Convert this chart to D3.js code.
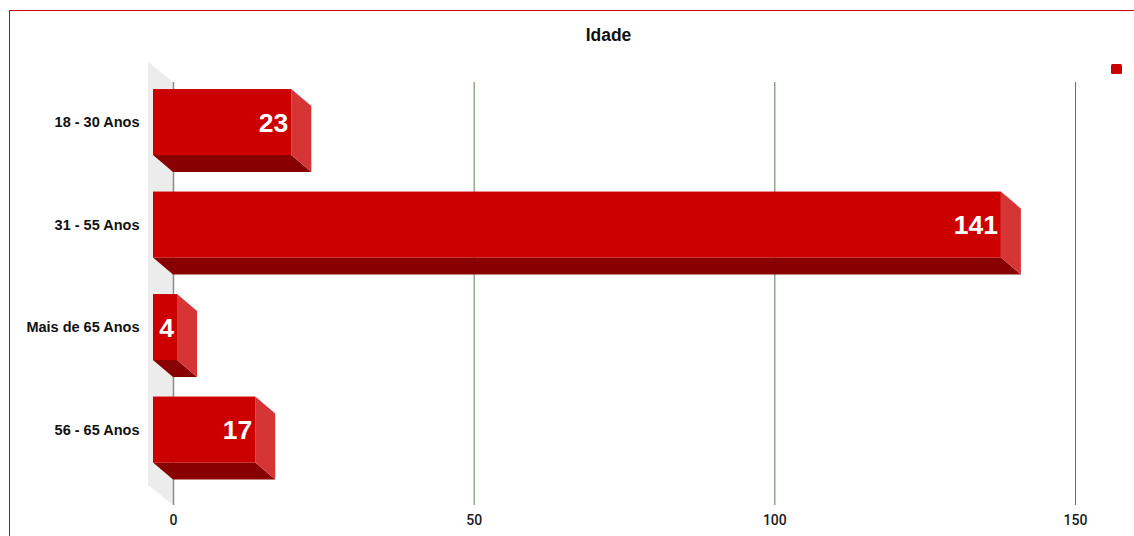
<!DOCTYPE html>
<html>
<head>
<meta charset="utf-8">
<script src="https://cdn.jsdelivr.net/npm/d3@7"></script>
<style>
  html, body { margin: 0; padding: 0; background: #fff; }
  svg { display: block; }
</style>
</head>
<body>
<svg id="chart" width="1134" height="536"></svg>
<script>
// Age groups and respondent counts
const categories = ["18 - 30 Anos", "31 - 55 Anos", "Mais de 65 Anos", "56 - 65 Anos"];
const values = [23, 141, 4, 17];
const xTicks = [0, 50, 100, 150];
const title = "Idade";

const W = 1134, H = 536;
const svg = d3.select("#chart");

// 3D depth offset between the back plane (grid) and the front face of bars
const depthX = 20, depthY = 17;

// Back plane scale (gridlines); bar fronts are shifted by -depthX
const x = d3.scaleLinear().domain([0, 150]).range([173, 1075]);
const y = d3.scaleBand().domain(categories)
  .range([70.8, 480.8]).paddingInner(0.356).paddingOuter(0.178);

const gridTop = 82, gridBottom = 505;

// Outer frame (top and left edges)
svg.append("line").attr("x1", 9.5).attr("x2", W).attr("y1", 10.5).attr("y2", 10.5)
  .attr("stroke", "#cc0000").attr("stroke-width", 1);
svg.append("line").attr("x1", 9.5).attr("x2", 9.5).attr("y1", 10.5).attr("y2", H)
  .attr("stroke", "#cc0000").attr("stroke-width", 1);

// Title
svg.append("text").attr("x", 608.5).attr("y", 41)
  .attr("text-anchor", "middle")
  .attr("font-family", "Liberation Sans, Arial, sans-serif")
  .attr("font-weight", "bold").attr("font-size", 17.5)
  .attr("fill", "#111").text(title);

// Legend marker
svg.append("rect").attr("x", 1111).attr("y", 64).attr("width", 11).attr("height", 10)
  .attr("rx", 1.5).attr("fill", "#cc0000");

// Side wall of the 3D plot
svg.append("path")
  .attr("d", `M148,62 L${x(0)},${gridTop} L${x(0)},${gridBottom} L148,485 Z`)
  .attr("fill", "#ececec");

// Vertical gridlines
svg.append("g").selectAll("line").data(xTicks).join("line")
  .attr("x1", d => x(d) + 0.5).attr("x2", d => x(d) + 0.5)
  .attr("y1", gridTop).attr("y2", gridBottom)
  .attr("stroke", d => d === 0 ? "#8a8a8a" : "#5f7a52")
  .attr("stroke-width", d => d === 0 ? 1.5 : 1);

// Tick labels
svg.append("g").selectAll("text").data(xTicks).join("text")
  .attr("x", d => x(d) + 0.5).attr("y", 525)
  .attr("text-anchor", "middle")
  .attr("font-family", "Roboto, sans-serif").attr("font-weight", 500)
  .attr("font-size", 14).attr("fill", "#1a1a1a")
  .text(d => d);

// Bars
const bars = svg.append("g").selectAll("g").data(values).join("g");
const x0 = x(0) - depthX;

bars.each(function(v, i) {
  const g = d3.select(this);
  const top = y(categories[i]);
  const bottom = top + y.bandwidth();
  const right = x(v) - depthX;
  // bottom face
  g.append("path")
    .attr("d", `M${x0},${bottom} L${right},${bottom} L${right + depthX},${bottom + depthY} L${x0 + depthX},${bottom + depthY} Z`)
    .attr("fill", "#880000");
  // right side face
  g.append("path")
    .attr("d", `M${right},${top} L${right + depthX},${top + depthY} L${right + depthX},${bottom + depthY} L${right},${bottom} Z`)
    .attr("fill", "#d63535");
  // front face
  g.append("rect")
    .attr("x", x0).attr("y", top)
    .attr("width", right - x0).attr("height", bottom - top)
    .attr("fill", "#cc0000");
  // value label
  g.append("text")
    .attr("x", right - 3).attr("y", (top + bottom) / 2 + 9.5)
    .attr("text-anchor", "end")
    .attr("font-family", "Liberation Sans, Arial, sans-serif").attr("font-weight", "bold")
    .attr("font-size", 26.5).attr("fill", "#fff")
    .text(v);
});

// Category labels
svg.append("g").selectAll("text").data(categories).join("text")
  .attr("x", 139.5).attr("y", d => y(d) + y.bandwidth() / 2 + 5)
  .attr("text-anchor", "end")
  .attr("font-family", "Liberation Sans, Arial, sans-serif")
  .attr("font-weight", "bold").attr("font-size", 14.5)
  .attr("fill", "#111")
  .text(d => d);
</script>
</body>
</html>
